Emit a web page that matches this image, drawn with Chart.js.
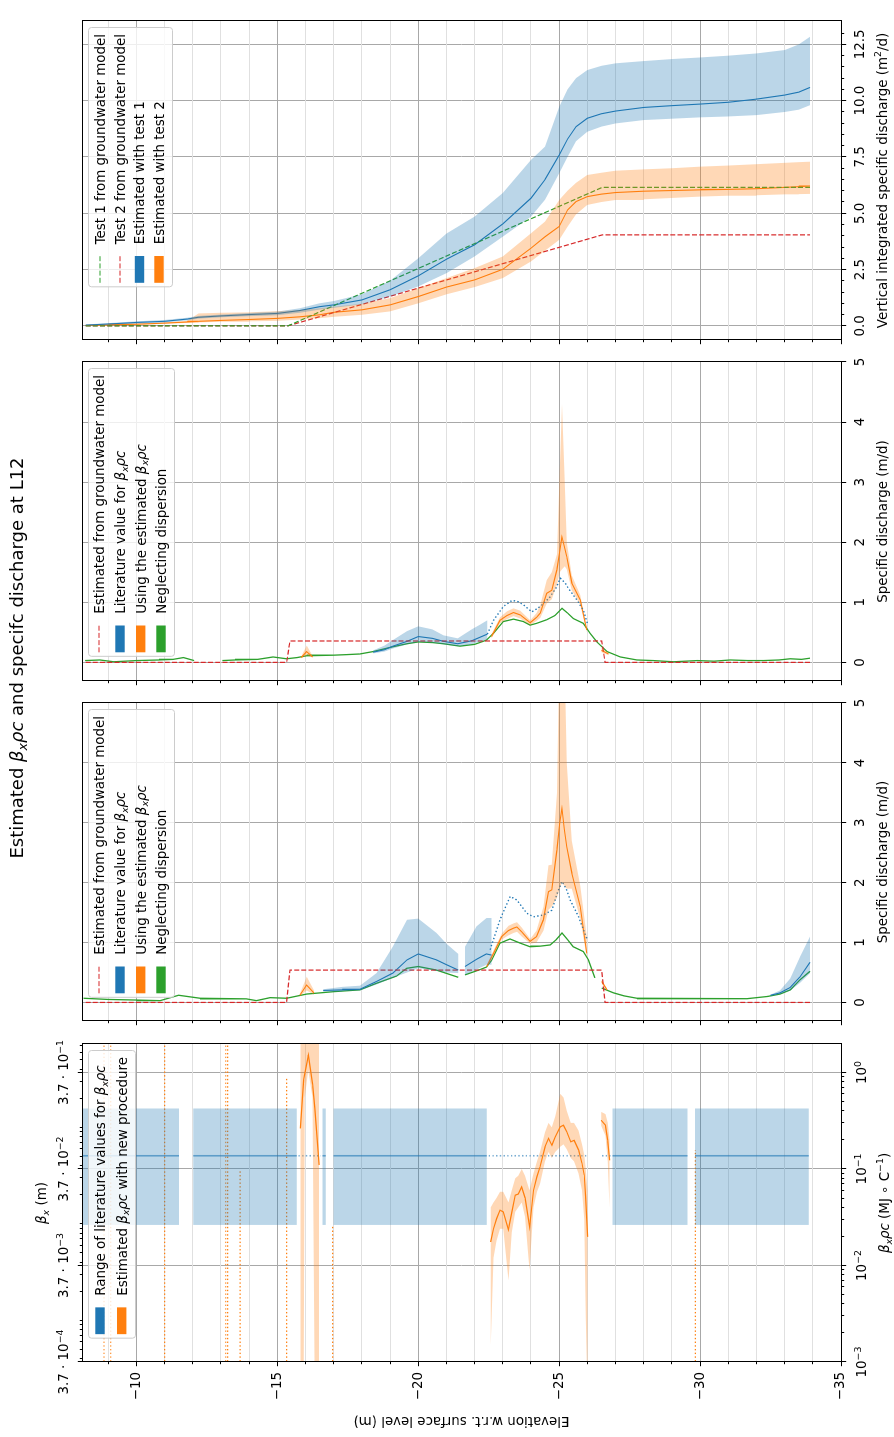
<!DOCTYPE html>
<html>
<head>
<meta charset="utf-8">
<script src="https://cdn.jsdelivr.net/npm/chart.js@4.4.1/dist/chart.umd.min.js"></script>
<style>
  html, body { margin: 0; padding: 0; background: #fff; overflow: hidden; }
  /* the figure is laid out landscape and turned a quarter turn, like the original */
  #fig { position: absolute; left: 0; top: 0; width: 1437px; height: 894px; background: #fff;
         transform-origin: 0 0; transform: translate(0, 1437px) rotate(-90deg); }
  #fig canvas { position: absolute; left: 0; top: 0; }
</style>
</head>
<body>
<div id="fig">
  <canvas id="panelD" width="1437" height="894"></canvas>
  <canvas id="panelC" width="1437" height="894"></canvas>
  <canvas id="panelB" width="1437" height="894"></canvas>
  <canvas id="panelA" width="1437" height="894"></canvas>
</div>
<script>
// ---------- data ----------
const elevMin = -35, elevMax = -8.07;
const elevTicks = Array.from({length: 27}, (_, i) => -35 + i);
const elevLabelTicks = [-35, -30, -25, -20, -15, -10];

// panel A: vertical integrated specific discharge (m2/d)
const cumTicks = [0, 2.5, 5, 7.5, 10, 12.5];
const cumTickLabels = ['0.0', '2.5', '5.0', '7.5', '10.0', '12.5'];
const elevA = [-8.2, -9, -10, -11, -11.8, -12.2, -13, -14, -15, -15.8, -16.5, -17, -18, -19, -20, -21, -22, -23, -24, -24.5, -25, -25.3, -25.6, -26, -26.5, -27, -28, -29, -30, -31, -32, -33, -33.5, -33.9];
const est1A = [0.03, 0.08, 0.15, 0.2, 0.3, 0.38, 0.44, 0.5, 0.55, 0.68, 0.85, 0.93, 1.15, 1.6, 2.22, 2.96, 3.6, 4.53, 5.67, 6.5, 7.59, 8.3, 8.85, 9.22, 9.42, 9.54, 9.7, 9.78, 9.85, 9.93, 10.07, 10.25, 10.38, 10.59];
const est1LoA = [0.0, 0.05, 0.1, 0.15, 0.24, 0.32, 0.38, 0.43, 0.47, 0.58, 0.72, 0.8, 0.95, 1.3, 1.75, 2.34, 3.08, 3.96, 4.85, 5.6, 6.78, 7.5, 8.2, 8.62, 8.85, 8.99, 9.14, 9.2, 9.26, 9.3, 9.36, 9.5, 9.6, 9.8];
const est1HiA = [0.06, 0.12, 0.2, 0.26, 0.36, 0.44, 0.5, 0.57, 0.63, 0.78, 1.0, 1.1, 1.4, 2.0, 3.0, 4.1, 4.85, 5.9, 7.37, 7.96, 9.73, 10.5, 11.0, 11.36, 11.55, 11.66, 11.76, 11.85, 11.92, 12.0, 12.1, 12.25, 12.5, 12.84];
const est2A = [0.02, 0.04, 0.07, 0.12, 0.17, 0.2, 0.24, 0.28, 0.33, 0.4, 0.49, 0.6, 0.71, 0.93, 1.3, 1.72, 2.04, 2.51, 3.45, 3.96, 4.41, 5.15, 5.52, 5.74, 5.85, 5.92, 5.98, 6.01, 6.04, 6.06, 6.09, 6.15, 6.18, 6.21];
const est2LoA = [0.01, 0.02, 0.04, 0.09, 0.13, 0.15, 0.18, 0.2, 0.22, 0.28, 0.34, 0.4, 0.49, 0.64, 1.0, 1.4, 1.72, 2.12, 2.86, 3.34, 3.82, 4.4, 4.95, 5.37, 5.5, 5.59, 5.62, 5.68, 5.74, 5.78, 5.8, 5.84, 5.85, 5.86];
const est2HiA = [0.03, 0.06, 0.1, 0.15, 0.22, 0.55, 0.58, 0.6, 0.65, 0.7, 0.78, 0.85, 0.98, 1.23, 1.67, 2.12, 2.56, 3.08, 4.11, 4.63, 5.59, 6.0, 6.35, 6.7, 6.8, 6.89, 6.95, 7.0, 7.07, 7.12, 7.18, 7.24, 7.27, 7.29];
const elevTestA = [-8.2, -15.38, -26.53, -33.9];
const test1A = [0, 0, 6.15, 6.15];
const test2A = [0, 0, 4.04, 4.04];

// panels B and C: specific discharge (m/d)
const qTicks = [0, 1, 2, 3, 4, 5];
const qTickLabels = ['0', '1', '2', '3', '4', '5'];
const elevGw = [-8.2, -15.33, -15.45, -26.51, -26.63, -33.9];
const gwB = [0, 0, 0.356, 0.356, 0, 0];
const gwC = [0, 0, 0.54, 0.54, 0, 0];

const elevNoDispB = [-8.18, -8.7, -9.2, -10, -10.8, -11.3, -11.67, -12.05, -12.5, -13.05, -13.5, -13.9, -14.3, -14.85, -15.33, -15.7, -16.04, -16.5, -17, -17.5, -17.93, -18.4, -19.1, -19.6, -20, -20.5, -20.9, -21.48, -22.0, -22.42, -22.7, -23.02, -23.38, -23.73, -23.97, -24.2, -24.56, -24.85, -25.1, -25.3, -25.5, -25.86, -26.1, -26.34, -26.7, -27.17, -27.76, -28.35, -29.06, -29.9, -30.5, -31.07, -31.7, -32.25, -32.8, -33.2, -33.6, -33.9];
const noDispB = [0.03, 0.04, 0.01, 0.03, 0.04, 0.05, 0.08, 0.03, null, 0.03, 0.04, 0.05, 0.05, 0.09, 0.06, 0.08, 0.11, 0.12, 0.12, 0.13, 0.14, 0.18, 0.26, 0.31, 0.34, 0.33, 0.31, 0.27, 0.3, 0.37, 0.5, 0.68, 0.72, 0.68, 0.62, 0.65, 0.71, 0.78, 0.9, 0.82, 0.73, 0.65, 0.48, 0.34, 0.18, 0.09, 0.04, 0.03, 0.01, 0.03, 0.02, 0.04, 0.03, 0.03, 0.04, 0.06, 0.05, 0.07];
const elevLitB = [-18.4, -18.8, -19.1, -19.6, -20, -20.5, -20.9, -21.4, -21.9, -22.2, -22.45];
const litB = [0.17, 0.21, 0.27, 0.35, 0.43, 0.4, 0.35, 0.31, 0.36, 0.42, 0.47];
const litLoB = [0.15, 0.18, 0.23, 0.3, 0.34, 0.33, 0.3, 0.27, 0.3, 0.35, 0.38];
const litHiB = [0.2, 0.28, 0.37, 0.52, 0.6, 0.55, 0.45, 0.4, 0.55, 0.63, 0.7];
const elevLitDotB = [-22.45, -22.67, -23.02, -23.32, -23.5, -23.73, -24.03, -24.33, -24.68, -24.9, -25.04, -25.2, -25.33, -25.63, -25.86, -26.0];
const litDotB = [0.47, 0.7, 0.93, 1.03, 1.02, 0.96, 0.84, 0.93, 1.09, 1.25, 1.4, 1.33, 1.23, 1.04, 0.87, 0.65];
const elevEstB = [-15.85, -16.04, -16.25, -16.4, -22.6, -22.9, -23.15, -23.38, -23.62, -23.97, -24.2, -24.33, -24.56, -24.74, -24.92, -25.02, -25.1, -25.2, -25.27, -25.45, -25.75, -25.98, -26.2, -26.5, -26.75];
const estB = [0.08, 0.18, 0.09, null, 0.43, 0.7, 0.78, 0.83, 0.79, 0.66, 0.75, 0.82, 1.15, 1.2, 1.54, 1.85, 2.09, 1.9, 1.76, 1.32, 1.04, 0.54, null, 0.2, 0.14];
const estLoB = [0.07, 0.12, 0.08, null, 0.4, 0.65, 0.72, 0.77, 0.73, 0.62, 0.69, 0.74, 0.98, 1.05, 1.3, 1.5, 1.55, 1.6, 1.55, 1.2, 0.96, 0.5, null, 0.17, 0.12];
const estHiB = [0.1, 0.28, 0.11, null, 0.47, 0.75, 0.85, 0.9, 0.86, 0.7, 0.82, 0.95, 1.37, 1.5, 1.8, 3.2, 4.3, 3.0, 2.0, 1.45, 1.12, 0.58, null, 0.24, 0.16];

const elevNoDispC = [-8.12, -9, -10, -10.84, -11.5, -12.26, -13.2, -13.9, -14.26, -14.74, -15.33, -16.04, -17, -17.93, -18.52, -19.23, -19.59, -20, -20.65, -21.42, -21.55, -21.66, -22.2, -22.42, -22.6, -22.9, -23.26, -23.62, -23.97, -24.33, -24.68, -24.9, -25.1, -25.3, -25.5, -25.86, -26.04, -26.27, -26.4, -26.51, -26.93, -27.3, -27.76, -28.5, -29.3, -30.48, -31.66, -32.4, -32.84, -33.2, -33.55, -33.9];
const noDispC = [0.07, 0.05, 0.04, 0.03, 0.12, 0.07, 0.06, 0.06, 0.03, 0.08, 0.07, 0.14, 0.18, 0.21, 0.32, 0.44, 0.57, 0.6, 0.54, 0.42, null, 0.46, 0.55, 0.59, 0.7, 0.99, 1.06, 0.99, 0.93, 0.94, 0.96, 1.05, 1.16, 1.05, 0.93, 0.85, 0.71, 0.41, null, 0.24, 0.16, 0.11, 0.07, 0.06, 0.06, 0.06, 0.07, 0.1, 0.14, 0.21, 0.38, 0.52];
const elevLitC = [-16.63, -17.3, -17.93, -18.52, -19.1, -19.6, -20, -20.65, -21.0, -21.42, -21.55, -21.66, -22.07, -22.42, -22.6, -22.7, -32.5, -32.84, -33.2, -33.55, -33.9];
const litC = [0.2, 0.21, 0.22, 0.35, 0.49, 0.71, 0.81, 0.71, 0.63, 0.54, null, 0.6, 0.72, 0.81, 0.79, null, 0.12, 0.16, 0.25, 0.43, 0.67];
const litLoC = [0.18, 0.19, 0.2, 0.3, 0.41, 0.5, 0.57, 0.53, 0.5, 0.49, null, 0.46, 0.55, 0.63, 0.64, null, 0.11, 0.14, 0.2, 0.33, 0.49];
const litHiC = [0.22, 0.26, 0.28, 0.49, 0.93, 1.38, 1.4, 1.16, 0.98, 0.81, null, 0.93, 1.27, 1.41, 1.41, null, 0.13, 0.2, 0.4, 0.77, 1.1];
const elevLitDotC = [-22.55, -22.9, -23.26, -23.5, -23.85, -24.09, -24.44, -24.74, -24.95, -25.1, -25.25, -25.39, -25.69, -25.98];
const litDotC = [0.88, 1.38, 1.77, 1.71, 1.49, 1.43, 1.46, 1.54, 1.85, 2.02, 1.9, 1.71, 1.43, 1.07];
const elevEstC = [-15.8, -16.04, -16.3, -16.5, -22.43, -22.67, -22.96, -23.2, -23.38, -23.5, -23.67, -23.97, -24.2, -24.44, -24.62, -24.74, -24.92, -25.02, -25.1, -25.18, -25.27, -25.45, -25.75, -25.98, -26.2, -26.51, -26.7];
const estC = [0.12, 0.29, 0.16, null, 0.6, 0.82, 1.1, 1.2, 1.24, 1.26, 1.18, 1.02, 1.1, 1.38, 1.85, 1.88, 2.54, 3.0, 3.24, 2.9, 2.6, 2.16, 1.6, 0.82, null, 0.35, 0.21];
const estLoC = [0.1, 0.2, 0.13, null, 0.57, 0.78, 1.05, 1.12, 1.16, 1.18, 1.1, 0.98, 1.0, 1.2, 1.55, 1.6, 1.75, 1.9, 2.0, 1.95, 1.9, 1.9, 1.4, 0.75, null, 0.32, 0.19];
const estHiC = [0.14, 0.43, 0.2, null, 0.63, 0.87, 1.15, 1.28, 1.32, 1.34, 1.25, 1.06, 1.2, 1.6, 2.29, 2.3, 3.5, 6, 6, 6, 4.0, 2.7, 1.95, 1.1, null, 0.38, 0.23];

// panel D: beta_x rho c (log); tick labels as [text, flags] parts, 'p' = superscript
const logTicks = [0.001, 0.01, 0.1, 1];
const logTickLabels = [[['10'], ['\u22123', 'p']], [['10'], ['\u22122', 'p']], [['10'], ['\u22121', 'p']], [['10'], ['0', 'p']]];
const betaTicks = [3.7e-4, 3.7e-3, 3.7e-2, 3.7e-1];
const betaTickLabels = [[['3.7 \u00B7 10'], ['\u22124', 'p']], [['3.7 \u00B7 10'], ['\u22123', 'p']], [['3.7 \u00B7 10'], ['\u22122', 'p']], [['3.7 \u00B7 10'], ['\u22121', 'p']]];
const litStartD = [-8.07, -12.02, -16.6, -16.99, -26.89, -29.82];
const litEndD = [-11.51, -15.69, -16.72, -22.43, -29.55, -33.86];
const litRangeD = [0.0263, 0.423];
const litValueD = 0.137;
const litDotStartD = [-15.75, -22.5, -26.52];
const litDotEndD = [-16.55, -25.98, -26.82];
const elevEstD = [-15.82, -15.93, -15.97, -16.1, -16.25, -16.33, -16.48, -16.6,
  -22.57, -22.67, -22.78, -22.9, -23.02, -23.2, -23.32, -23.44, -23.55, -23.67, -23.79, -23.95, -24.09, -24.21, -24.32, -24.5, -24.62, -24.74, -24.86, -25.04, -25.15, -25.27, -25.41, -25.53, -25.69, -25.81, -25.89, -25.94, -26.01,
  -26.2, -26.49, -26.64, -26.72, -26.79];
const estD = [0.263, 0.83, 0.95, 1.51, 0.75, 0.42, 0.11, null,
  0.0175, 0.024, 0.0306, 0.0374, 0.0359, 0.0235, 0.0359, 0.0535, 0.055, 0.0652, 0.05, 0.025, 0.06, 0.0828, 0.105, 0.17, 0.207, 0.176, 0.215, 0.273, 0.284, 0.243, 0.191, 0.198, 0.157, 0.114, 0.0863, 0.0513, 0.0198,
  null, 0.32, 0.284, 0.2, 0.123];
const estLoD = [0.0005, 0.0005, 0.55, 1.05, 0.55, 0.0005, 0.0005, null,
  0.0015, 0.012, 0.018, 0.024, 0.024, 0.007, 0.022, 0.036, 0.04, 0.045, 0.032, 0.009, 0.04, 0.058, 0.07, 0.12, 0.15, 0.13, 0.15, 0.17, 0.18, 0.16, 0.13, 0.12, 0.09, 0.06, 0.03, 0.003, 0.0005,
  null, 0.28, 0.22, 0.12, 0.04];
const estHiD = [3, 3, 3, 3, 3, 3, 3, null,
  0.04, 0.045, 0.05, 0.058, 0.058, 0.045, 0.06, 0.08, 0.085, 0.1, 0.085, 0.06, 0.09, 0.12, 0.15, 0.24, 0.3, 0.27, 0.35, 0.6, 0.55, 0.4, 0.3, 0.3, 0.25, 0.18, 0.14, 0.1, 0.06,
  null, 0.39, 0.37, 0.3, 0.2];
const dotElevD = [-8.85, -9.09, -11.0, -13.17, -13.24, -13.68, -15.33, -16.96, -29.83];
const dotLowD = [0.0005, 0.0005, 0.0005, 0.0005, 0.0005, 0.0005, 0.0005, 0.0005, 0.0005];
const dotHighD = [3, 3, 3, 3, 3, 0.097, 0.87, 0.026, 0.157];

// ---------- style ----------
const FAMILY = '"DejaVu Sans", sans-serif';
const FS = 13.4;
const BLUE = '#1f77b4', ORANGE = '#ff7f0e', GREEN = '#2ca02c', RED = '#d62728';
const BLUE_BAND = 'rgba(31,119,180,0.3)', ORANGE_BAND = 'rgba(255,127,14,0.3)';
const GRID_MAJOR = '#a8a8a8', GRID_MINOR = '#e0e0e0';
const DASH = [5, 2.2], DOT = [1.4, 2.3];
const FIG_W = 1437, FIG_H = 894, TOP = 82, BOTTOM = 841;
const PANEL = {D: [75, 393], C: [416, 734], B: [756, 1075], A: [1097, 1416]};

// ---------- helpers turning the arrays into points ----------
function pts(elev, vals) {
  return elev.map((e, i) => vals[i] == null ? {x: null, y: null} : {x: vals[i], y: e});
}
function poly(elev, lo, hi) {
  const out = [];
  let run = [];
  const flush = () => {
    if (!run.length) return;
    run.forEach(i => out.push({x: hi[i], y: elev[i]}));
    run.slice().reverse().forEach(i => out.push({x: lo[i], y: elev[i]}));
    out.push({x: null, y: null});
    run = [];
  };
  elev.forEach((e, i) => { if (lo[i] == null) flush(); else run.push(i); });
  flush();
  return out;
}
function rects(starts, ends, lo, hi) {
  const out = [];
  starts.forEach((s, i) => out.push({x: lo, y: s}, {x: lo, y: ends[i]}, {x: hi, y: ends[i]}, {x: hi, y: s}, {x: null, y: null}));
  return out;
}
function vruns(starts, ends, v) {
  const out = [];
  starts.forEach((s, i) => out.push({x: v, y: s}, {x: v, y: ends[i]}, {x: null, y: null}));
  return out;
}
function hruns(elev, lo, hi) {
  const out = [];
  elev.forEach((e, i) => out.push({x: lo[i], y: e}, {x: hi[i], y: e}, {x: null, y: null}));
  return out;
}
function band(data, color) {
  return {data, showLine: true, fill: 'shape', backgroundColor: color, borderColor: 'rgba(0,0,0,0)', borderWidth: 0, pointRadius: 0};
}
function line(data, color, width, dash) {
  return {data, showLine: true, fill: false, borderColor: color, borderWidth: width, borderDash: dash || [], pointRadius: 0, tension: 0};
}

// ---------- rich text (italic / sub / superscript) ----------
function partFont(f, size) {
  const small = f.includes('b') || f.includes('p');
  return (f.includes('i') ? 'italic ' : '') + (small ? size * 0.7 : size).toFixed(2) + 'px ' + FAMILY;
}
function richWidth(ctx, parts, size) {
  let w = 0;
  parts.forEach(([t, f = '']) => { ctx.font = partFont(f, size); w += ctx.measureText(t).width; });
  return w;
}
function drawRich(ctx, parts, x, cy, size, align) {
  const w = richWidth(ctx, parts, size);
  let cx = align === 'center' ? x - w / 2 : align === 'right' ? x - w : x;
  const base = cy + size * 0.36;
  ctx.textAlign = 'left';
  ctx.textBaseline = 'alphabetic';
  parts.forEach(([t, f = '']) => {
    ctx.font = partFont(f, size);
    const dy = f.includes('b') ? size * 0.2 : f.includes('p') ? -size * 0.42 : 0;
    ctx.fillText(t, cx, base + dy);
    cx += ctx.measureText(t).width;
  });
}
const BXRC = [['\u03B2', 'i'], ['x', 'ib'], ['\u03C1c', 'i']];

function drawLegend(ctx, a, L) {
  let maxw = 0;
  L.items.forEach(it => { maxw = Math.max(maxw, richWidth(ctx, it.label, FS)); });
  const w = 43 + maxw + 6, h = L.height;
  const x0 = a.right - 7 - w, y0 = a.top + 6;
  ctx.beginPath();
  ctx.roundRect(x0 + 0.5, y0 + 0.5, w, h, 3);
  ctx.fillStyle = 'rgba(255,255,255,0.8)';
  ctx.fill();
  ctx.strokeStyle = '#cccccc';
  ctx.lineWidth = 1;
  ctx.stroke();
  L.items.forEach((it, i) => {
    const cy = y0 + L.rows[i];
    if (it.kind === 'dash') {
      ctx.strokeStyle = it.color;
      ctx.lineWidth = 1.1;
      ctx.setLineDash(DASH);
      ctx.beginPath(); ctx.moveTo(x0 + 4.5, cy); ctx.lineTo(x0 + 31.3, cy); ctx.stroke();
      ctx.setLineDash([]);
    } else {
      ctx.fillStyle = it.color;
      ctx.fillRect(x0 + 4.5, cy - 4.7, 26.8, 9.4);
    }
    ctx.fillStyle = '#000';
    drawRich(ctx, it.label, x0 + 43, cy, FS, 'left');
  });
}

// frame, tick marks, legend and titles, drawn on top like matplotlib does
const decor = {
  id: 'decor',
  afterDraw(chart, args, o) {
    const ctx = chart.ctx, a = chart.chartArea, sy = chart.scales.y, sx = chart.scales.x, s2 = chart.scales.x2;
    const px = p => Math.round(p - 0.5) + 0.5;
    const seg = (x1, y1, x2, y2) => { ctx.beginPath(); ctx.moveTo(x1, y1); ctx.lineTo(x2, y2); ctx.stroke(); };
    ctx.save();
    ctx.setLineDash([]);
    ctx.strokeStyle = '#000';
    ctx.lineWidth = 1;
    const L = px(a.left), R = px(a.right), T = px(a.top), B = px(a.bottom);
    ctx.strokeRect(L, T, R - L, B - T);
    elevTicks.forEach(v => { const y = px(sy.getPixelForValue(v)); seg(L, y, L - (v % 5 === 0 ? 4.7 : 2.7), y); });
    (o.xMajor || []).forEach(v => { const x = px(sx.getPixelForValue(v)); seg(x, B, x, B + 4.7); });
    (o.xMinor || []).forEach(v => { const x = px(sx.getPixelForValue(v)); seg(x, B, x, B + 2.7); });
    if (s2) {
      (o.x2Major || []).forEach(v => { const x = px(s2.getPixelForValue(v)); seg(x, T, x, T - 4.7); });
      (o.x2Minor || []).forEach(v => { const x = px(s2.getPixelForValue(v)); seg(x, T, x, T - 2.7); });
    }
    ctx.fillStyle = '#000';
    // math tick labels (superscripts) placed through the scales
    (o.xRich || []).forEach((p, i) => drawRich(ctx, p, sx.getPixelForValue(o.xMajor[i]), B + 20, FS, 'center'));
    (o.x2Rich || []).forEach((p, i) => drawRich(ctx, p, s2.getPixelForValue(o.x2Major[i]), T - 19, FS, 'center'));
    if (o.legend) drawLegend(ctx, a, o.legend);
    ctx.fillStyle = '#000';
    (o.texts || []).forEach(t => {
      const size = t.size || FS;
      if (t.rot) {
        ctx.save();
        ctx.translate(t.x, t.y);
        ctx.rotate(-Math.PI / 2);
        drawRich(ctx, t.parts, 0, 0, size, 'center');
        ctx.restore();
      } else {
        drawRich(ctx, t.parts, t.x, t.y, size, 'center');
      }
    });
    ctx.restore();
  }
};

// ---------- scales ----------
// axis boxes take the whole margin so Chart.js does not clip the tick labels away
const tickFont = {family: FAMILY, size: FS};
function elevScale(width, showLabels) {
  return {
    type: 'linear', position: 'left', min: elevMin, max: elevMax,
    afterBuildTicks: s => { s.ticks = elevTicks.map(v => ({value: v})); },
    afterFit: s => { s.width = width; },
    grid: {color: c => (c.tick && c.tick.value % 5 === 0) ? GRID_MAJOR : GRID_MINOR, lineWidth: 1, drawTicks: false},
    border: {display: false},
    ticks: {display: showLabels, padding: 10, color: '#000', font: tickFont, autoSkip: false,
      callback: v => elevLabelTicks.includes(v) ? '\u2212' + Math.abs(v) : ''}
  };
}
function valueScale(type, min, max, ticks, labels, position, size, grid) {
  return {
    type, position, min, max, axis: 'x',
    afterBuildTicks: s => { s.ticks = ticks.map(v => ({value: v})); },
    afterFit: s => { s.height = size; },
    grid: {display: grid, color: GRID_MAJOR, lineWidth: 1, drawTicks: false},
    border: {display: false},
    ticks: {display: !!labels, padding: 11, color: '#000', font: tickFont, autoSkip: false, maxRotation: 0, minRotation: 0,
      callback: (v, i) => labels ? labels[i] : ''}
  };
}

function makeChart(id, span, leftW, scales, datasets, decorOpts) {
  return new Chart(document.getElementById(id), {
    type: 'scatter',
    data: {datasets},
    options: {
      responsive: false, animation: false, devicePixelRatio: 1, events: [],
      layout: {padding: {left: span[0] - leftW, right: FIG_W - span[1], top: scales.x2 ? 0 : TOP, bottom: 0}},
      plugins: {legend: {display: false}, tooltip: {enabled: false}, decor: decorOpts},
      scales
    },
    plugins: [decor]
  });
}

const qLegendItems = [
  {kind: 'dash', color: RED, label: [['Estimated from groundwater model']]},
  {kind: 'patch', color: BLUE, label: [['Literature value for ']].concat(BXRC)},
  {kind: 'patch', color: ORANGE, label: [['Using the estimated ']].concat(BXRC)},
  {kind: 'patch', color: GREEN, label: [['Neglecting dispersion']]}
];
const qTitle = [['Specific discharge (m/d)']];
const mid = s => (s[0] + s[1]) / 2;
const BOTTOM_H = FIG_H - BOTTOM;

// panel D (leftmost before turning)
const logMinor = [], betaMinor = [];
for (let n = -3; n <= 0; n++) for (let k = 2; k <= 9; k++) if (k * 10 ** n < 1.97) logMinor.push(k * 10 ** n);
for (let n = -4; n <= -1; n++) for (let k = 1; k <= 9; k++) { const v = k * 10 ** n; if (v > 3.7e-4 && v < 0.729) betaMinor.push(v); }

makeChart('panelD', PANEL.D, PANEL.D[0], {
  x: valueScale('logarithmic', 0.001, 1.97, logTicks, null, 'bottom', BOTTOM_H, true),
  x2: valueScale('logarithmic', 0.00037, 0.729, betaTicks, null, 'top', TOP, false),
  y: elevScale(PANEL.D[0], true)
}, [
  band(rects(litStartD, litEndD, litRangeD[0], litRangeD[1]), BLUE_BAND),
  band(poly(elevEstD, estLoD, estHiD), ORANGE_BAND),
  line(vruns(litStartD, litEndD, litValueD), 'rgba(31,119,180,0.6)', 1.6),
  line(vruns(litDotStartD, litDotEndD, litValueD), 'rgba(31,119,180,0.6)', 1.6, DOT),
  line(hruns(dotElevD, dotLowD, dotHighD), ORANGE, 1.2, DOT),
  line(pts(elevEstD, estD), ORANGE, 1.2)
], {
  xMajor: logTicks, xMinor: logMinor, xRich: logTickLabels,
  x2Major: betaTicks, x2Minor: betaMinor, x2Rich: betaTickLabels,
  legend: {height: 47, rows: [12, 33.7], items: [
    {kind: 'patch', color: BLUE, label: [['Range of literature values for ']].concat(BXRC)},
    {kind: 'patch', color: ORANGE, label: [['Estimated ']].concat(BXRC, [[' with new procedure']])}
  ]},
  texts: [
    {parts: [['Elevation w.r.t. surface level (m)']], x: 15, y: (TOP + BOTTOM) / 2, rot: true},
    {parts: BXRC.concat([[' (MJ \u2218 C'], ['\u22121', 'p'], [')']]), x: mid(PANEL.D), y: 884},
    {parts: [['\u03B2', 'i'], ['x', 'ib'], [' (m)']], x: mid(PANEL.D), y: 41},
    {parts: [['Estimated '], ...BXRC, [' and specifc discharge at L12']], x: 779, y: 17, size: 18}
  ]
});

// panel C
makeChart('panelC', PANEL.C, 0, {
  x: valueScale('linear', -0.31, 5, qTicks, qTickLabels, 'bottom', BOTTOM_H, true),
  y: elevScale(0, false)
}, [
  band(poly(elevLitC, litLoC, litHiC), BLUE_BAND),
  band(poly(elevEstC, estLoC, estHiC), ORANGE_BAND),
  line(pts(elevGw, gwC), RED, 1.2, DASH),
  line(pts(elevLitC, litC), BLUE, 1.1),
  line(pts(elevLitDotC, litDotC), BLUE, 1.4, DOT),
  line(pts(elevEstC, estC), ORANGE, 1.1),
  line(pts(elevNoDispC, noDispC), GREEN, 1.3)
], {
  xMajor: qTicks,
  legend: {height: 86, rows: [11, 32, 52.7, 73], items: qLegendItems},
  texts: [{parts: qTitle, x: mid(PANEL.C), y: 882}]
});

// panel B
makeChart('panelB', PANEL.B, 0, {
  x: valueScale('linear', -0.31, 5, qTicks, qTickLabels, 'bottom', BOTTOM_H, true),
  y: elevScale(0, false)
}, [
  band(poly(elevLitB, litLoB, litHiB), BLUE_BAND),
  band(poly(elevEstB, estLoB, estHiB), ORANGE_BAND),
  line(pts(elevGw, gwB), RED, 1.2, DASH),
  line(pts(elevLitB, litB), BLUE, 1.1),
  line(pts(elevLitDotB, litDotB), BLUE, 1.4, DOT),
  line(pts(elevEstB, estB), ORANGE, 1.1),
  line(pts(elevNoDispB, noDispB), GREEN, 1.3)
], {
  xMajor: qTicks,
  legend: {height: 86, rows: [11, 32, 52.7, 73], items: qLegendItems},
  texts: [{parts: qTitle, x: mid(PANEL.B), y: 882}]
});

// panel A (rightmost before turning)
const cumMinor = [];
for (let v = 0.5; v < 13.5; v += 0.5) if (!cumTicks.includes(v)) cumMinor.push(v);

makeChart('panelA', PANEL.A, 0, {
  x: valueScale('linear', -0.63, 13.54, cumTicks, cumTickLabels, 'bottom', BOTTOM_H, true),
  y: elevScale(0, false)
}, [
  band(poly(elevA, est1LoA, est1HiA), BLUE_BAND),
  band(poly(elevA, est2LoA, est2HiA), ORANGE_BAND),
  line(pts(elevTestA, test1A), GREEN, 1.2, DASH),
  line(pts(elevTestA, test2A), RED, 1.2, DASH),
  line(pts(elevA, est1A), BLUE, 1.1),
  line(pts(elevA, est2A), ORANGE, 1.1)
], {
  xMajor: cumTicks, xMinor: cumMinor,
  legend: {height: 84, rows: [12, 32, 51.5, 71], items: [
    {kind: 'dash', color: GREEN, label: [['Test 1 from groundwater model']]},
    {kind: 'dash', color: RED, label: [['Test 2 from groundwater model']]},
    {kind: 'patch', color: BLUE, label: [['Estimated with test 1']]},
    {kind: 'patch', color: ORANGE, label: [['Estimated with test 2']]}
  ]},
  texts: [{parts: [['Vertical integrated specific discharge (m'], ['2', 'p'], ['/d)']], x: mid(PANEL.A), y: 882}]
});
</script>
</body>
</html>
